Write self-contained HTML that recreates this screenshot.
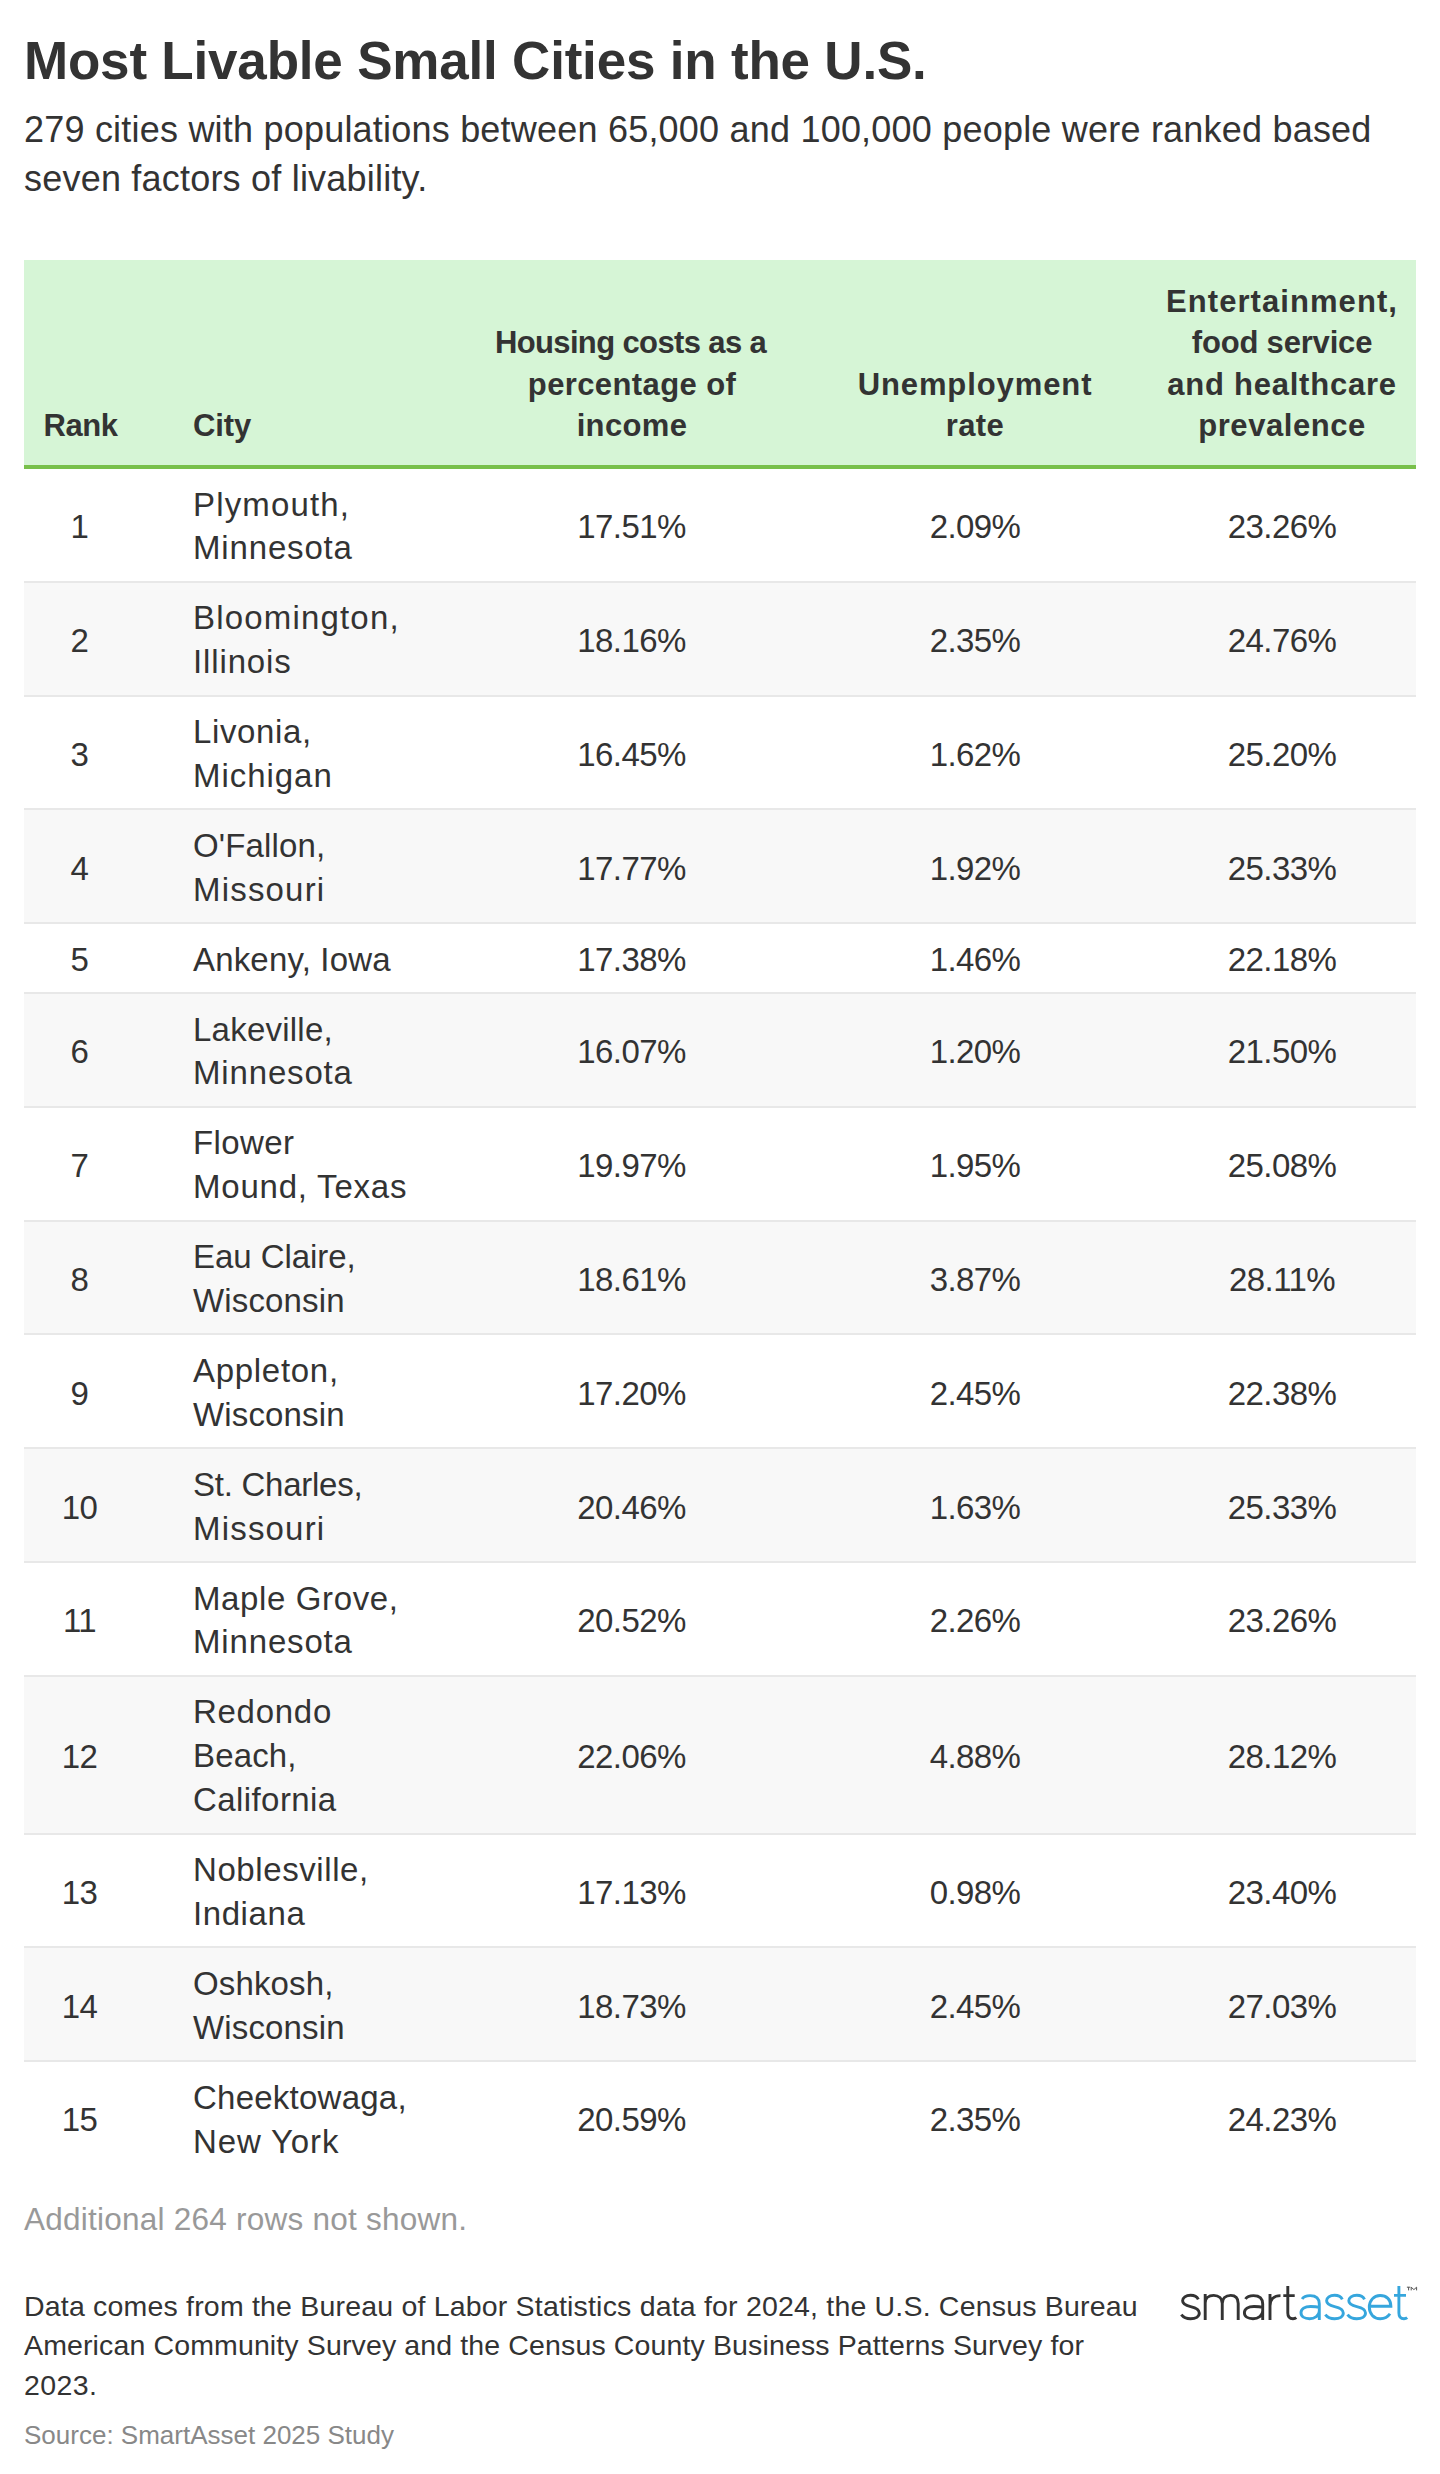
<!DOCTYPE html>
<html>
<head>
<meta charset="utf-8">
<style>
html,body{margin:0;padding:0;background:#fff;}
body{width:1440px;height:2474px;position:relative;overflow:hidden;font-family:"Liberation Sans",sans-serif;color:#333333;}
.a{position:absolute;white-space:nowrap;}
#title{left:24px;top:26px;font-size:53px;line-height:70px;font-weight:bold;letter-spacing:-0.2px;color:#333333;}
#sub{left:24px;top:106px;font-size:36px;line-height:48.6px;letter-spacing:0.21px;}
#tbl{position:absolute;left:24px;top:260px;width:1392px;}
.hd{position:relative;height:205px;background:#d6f5d6;border-bottom:4px solid #78c04b;}
.hc{position:absolute;bottom:18px;font-weight:bold;font-size:31px;line-height:41.6px;text-align:center;white-space:nowrap;color:#333333;}
.row{position:relative;border-bottom:2px solid #e8e8e8;}
.row.g{background:#f8f8f8;}
.row.last{border-bottom:none;}
.c{position:absolute;font-size:33px;line-height:43.9px;white-space:nowrap;}
.c1{left:-1px;width:113px;text-align:center;letter-spacing:-0.6px;}
.c2{left:169px;letter-spacing:0.6px;}
.cn{text-align:center;letter-spacing:-0.6px;}
#more{left:24px;top:2199px;font-size:31.5px;line-height:40px;color:#999999;letter-spacing:0.24px;}
#notes{left:24px;top:2286.5px;font-size:28.5px;line-height:39.6px;letter-spacing:0.4px;}
#src{left:24px;top:2416.5px;font-size:26px;line-height:36px;color:#888888;letter-spacing:0px;}
</style>
</head>
<body>
<div id="title" class="a">Most Livable Small Cities in the U.S.</div>
<div id="sub" class="a">279 cities with populations between 65,000 and 100,000 people were ranked based<br>seven factors of livability.</div>
<div id="tbl">
 <div class="hd">
  <div class="hc" style="left:0;width:113px;"><div style="letter-spacing:-0.4px;position:relative;left:0px">Rank</div></div>
  <div class="hc" style="left:169px;text-align:left;"><div style="letter-spacing:-0.07px;position:relative;left:0px">City</div></div>
  <div class="hc" style="left:438px;width:340px;"><div style="letter-spacing:-0.63px;position:relative;left:-1.5px">Housing costs as a</div><div style="letter-spacing:0.39px;position:relative;left:0px">percentage of</div><div style="letter-spacing:0.36px;position:relative;left:0px">income</div></div>
  <div class="hc" style="left:778px;width:346px;"><div style="letter-spacing:0.9px;position:relative;left:0px">Unemployment</div><div style="letter-spacing:0.4px;position:relative;left:0px">rate</div></div>
  <div class="hc" style="left:1124px;width:268px;"><div style="letter-spacing:1.07px;position:relative;left:0px">Entertainment,</div><div style="letter-spacing:-0.18px;position:relative;left:0px">food service</div><div style="letter-spacing:0.77px;position:relative;left:0px">and healthcare</div><div style="letter-spacing:0.55px;position:relative;left:0px">prevalence</div></div>
 </div>
 <div class="row" style="height:111.80px">
  <div class="c c1" style="top:36.25px">1</div>
  <div class="c c2" style="top:13.50px"><div style="letter-spacing:1.16px">Plymouth,</div><div style="letter-spacing:0.84px">Minnesota</div></div>
  <div class="c cn" style="left:437.5px;width:340px;top:36.25px">17.51%</div>
  <div class="c cn" style="left:778px;width:346px;top:36.25px">2.09%</div>
  <div class="c cn" style="left:1124px;width:268px;top:36.25px">23.26%</div>
 </div>
 <div class="row g" style="height:111.80px">
  <div class="c c1" style="top:36.25px">2</div>
  <div class="c c2" style="top:13.50px"><div style="letter-spacing:1.18px">Bloomington,</div><div style="letter-spacing:0.87px">Illinois</div></div>
  <div class="c cn" style="left:437.5px;width:340px;top:36.25px">18.16%</div>
  <div class="c cn" style="left:778px;width:346px;top:36.25px">2.35%</div>
  <div class="c cn" style="left:1124px;width:268px;top:36.25px">24.76%</div>
 </div>
 <div class="row" style="height:111.80px">
  <div class="c c1" style="top:36.25px">3</div>
  <div class="c c2" style="top:13.50px"><div style="letter-spacing:0.64px">Livonia,</div><div style="letter-spacing:0.96px">Michigan</div></div>
  <div class="c cn" style="left:437.5px;width:340px;top:36.25px">16.45%</div>
  <div class="c cn" style="left:778px;width:346px;top:36.25px">1.62%</div>
  <div class="c cn" style="left:1124px;width:268px;top:36.25px">25.20%</div>
 </div>
 <div class="row g" style="height:111.80px">
  <div class="c c1" style="top:36.25px">4</div>
  <div class="c c2" style="top:13.50px"><div style="letter-spacing:0.15px">O'Fallon,</div><div style="letter-spacing:1.19px">Missouri</div></div>
  <div class="c cn" style="left:437.5px;width:340px;top:36.25px">17.77%</div>
  <div class="c cn" style="left:778px;width:346px;top:36.25px">1.92%</div>
  <div class="c cn" style="left:1124px;width:268px;top:36.25px">25.33%</div>
 </div>
 <div class="row" style="height:67.90px">
  <div class="c c1" style="top:14.30px">5</div>
  <div class="c c2" style="top:13.50px"><div style="letter-spacing:0.17px">Ankeny, Iowa</div></div>
  <div class="c cn" style="left:437.5px;width:340px;top:14.30px">17.38%</div>
  <div class="c cn" style="left:778px;width:346px;top:14.30px">1.46%</div>
  <div class="c cn" style="left:1124px;width:268px;top:14.30px">22.18%</div>
 </div>
 <div class="row g" style="height:111.80px">
  <div class="c c1" style="top:36.25px">6</div>
  <div class="c c2" style="top:13.50px"><div style="letter-spacing:0.23px">Lakeville,</div><div style="letter-spacing:0.84px">Minnesota</div></div>
  <div class="c cn" style="left:437.5px;width:340px;top:36.25px">16.07%</div>
  <div class="c cn" style="left:778px;width:346px;top:36.25px">1.20%</div>
  <div class="c cn" style="left:1124px;width:268px;top:36.25px">21.50%</div>
 </div>
 <div class="row" style="height:111.80px">
  <div class="c c1" style="top:36.25px">7</div>
  <div class="c c2" style="top:13.50px"><div style="letter-spacing:0.4px">Flower</div><div style="letter-spacing:0.78px">Mound, Texas</div></div>
  <div class="c cn" style="left:437.5px;width:340px;top:36.25px">19.97%</div>
  <div class="c cn" style="left:778px;width:346px;top:36.25px">1.95%</div>
  <div class="c cn" style="left:1124px;width:268px;top:36.25px">25.08%</div>
 </div>
 <div class="row g" style="height:111.80px">
  <div class="c c1" style="top:36.25px">8</div>
  <div class="c c2" style="top:13.50px"><div style="letter-spacing:-0.06px">Eau Claire,</div><div style="letter-spacing:0.15px">Wisconsin</div></div>
  <div class="c cn" style="left:437.5px;width:340px;top:36.25px">18.61%</div>
  <div class="c cn" style="left:778px;width:346px;top:36.25px">3.87%</div>
  <div class="c cn" style="left:1124px;width:268px;top:36.25px">28.11%</div>
 </div>
 <div class="row" style="height:111.80px">
  <div class="c c1" style="top:36.25px">9</div>
  <div class="c c2" style="top:13.50px"><div style="letter-spacing:0.7px">Appleton,</div><div style="letter-spacing:0.15px">Wisconsin</div></div>
  <div class="c cn" style="left:437.5px;width:340px;top:36.25px">17.20%</div>
  <div class="c cn" style="left:778px;width:346px;top:36.25px">2.45%</div>
  <div class="c cn" style="left:1124px;width:268px;top:36.25px">22.38%</div>
 </div>
 <div class="row g" style="height:111.80px">
  <div class="c c1" style="top:36.25px">10</div>
  <div class="c c2" style="top:13.50px"><div style="letter-spacing:-0.25px">St. Charles,</div><div style="letter-spacing:1.19px">Missouri</div></div>
  <div class="c cn" style="left:437.5px;width:340px;top:36.25px">20.46%</div>
  <div class="c cn" style="left:778px;width:346px;top:36.25px">1.63%</div>
  <div class="c cn" style="left:1124px;width:268px;top:36.25px">25.33%</div>
 </div>
 <div class="row" style="height:111.80px">
  <div class="c c1" style="top:36.25px">11</div>
  <div class="c c2" style="top:13.50px"><div style="letter-spacing:0.62px">Maple Grove,</div><div style="letter-spacing:0.84px">Minnesota</div></div>
  <div class="c cn" style="left:437.5px;width:340px;top:36.25px">20.52%</div>
  <div class="c cn" style="left:778px;width:346px;top:36.25px">2.26%</div>
  <div class="c cn" style="left:1124px;width:268px;top:36.25px">23.26%</div>
 </div>
 <div class="row g" style="height:155.70px">
  <div class="c c1" style="top:58.20px">12</div>
  <div class="c c2" style="top:13.50px"><div style="letter-spacing:0.72px">Redondo</div><div style="letter-spacing:0.16px">Beach,</div><div style="letter-spacing:0.42px">California</div></div>
  <div class="c cn" style="left:437.5px;width:340px;top:58.20px">22.06%</div>
  <div class="c cn" style="left:778px;width:346px;top:58.20px">4.88%</div>
  <div class="c cn" style="left:1124px;width:268px;top:58.20px">28.12%</div>
 </div>
 <div class="row" style="height:111.80px">
  <div class="c c1" style="top:36.25px">13</div>
  <div class="c c2" style="top:13.50px"><div style="letter-spacing:0.59px">Noblesville,</div><div style="letter-spacing:0.58px">Indiana</div></div>
  <div class="c cn" style="left:437.5px;width:340px;top:36.25px">17.13%</div>
  <div class="c cn" style="left:778px;width:346px;top:36.25px">0.98%</div>
  <div class="c cn" style="left:1124px;width:268px;top:36.25px">23.40%</div>
 </div>
 <div class="row g" style="height:111.80px">
  <div class="c c1" style="top:36.25px">14</div>
  <div class="c c2" style="top:13.50px"><div style="letter-spacing:0.14px">Oshkosh,</div><div style="letter-spacing:0.15px">Wisconsin</div></div>
  <div class="c cn" style="left:437.5px;width:340px;top:36.25px">18.73%</div>
  <div class="c cn" style="left:778px;width:346px;top:36.25px">2.45%</div>
  <div class="c cn" style="left:1124px;width:268px;top:36.25px">27.03%</div>
 </div>
 <div class="row last" style="height:111.80px">
  <div class="c c1" style="top:36.25px">15</div>
  <div class="c c2" style="top:13.50px"><div style="letter-spacing:0.24px">Cheektowaga,</div><div style="letter-spacing:0.86px">New York</div></div>
  <div class="c cn" style="left:437.5px;width:340px;top:36.25px">20.59%</div>
  <div class="c cn" style="left:778px;width:346px;top:36.25px">2.35%</div>
  <div class="c cn" style="left:1124px;width:268px;top:36.25px">24.23%</div>
 </div>
</div>
<div id="more" class="a">Additional 264 rows not shown.</div>
<div id="notes" class="a"><div style="letter-spacing:0.19px">Data comes from the Bureau of Labor Statistics data for 2024, the U.S. Census Bureau</div><div style="letter-spacing:0.13px">American Community Survey and the Census County Business Patterns Survey for</div><div>2023.</div></div>
<div id="src" class="a">Source: SmartAsset 2025 Study</div>
<svg style="position:absolute;left:1170px;top:2280px" width="260" height="50" viewBox="0 0 260 50" fill="none" stroke-width="2.9">
<g stroke="#333333">
<path d="M28.3,19.3 C27,16.6 24,15.3 20.6,15.3 C15.8,15.3 12.6,17.8 12.6,20.8 C12.6,24.4 16,25.6 20.6,26.6 C25.6,27.7 29.3,29.2 29.3,33 C29.3,36.6 25.6,38.7 20.6,38.7 C16.8,38.7 13.3,37.2 11.3,34.6"/>
<path d="M35.2,14 L35.2,40 M35.2,23 C35.2,18.5 38.5,15.4 43.7,15.4 C49,15.4 52.25,18.5 52.25,23.5 L52.25,40 M52.25,23.5 C52.25,18.5 55.5,15.4 60.7,15.4 C66,15.4 68.2,18.5 68.2,23.5 L68.2,40"/>
<path d="M75.5,19 C77,16.6 80,15.6 83.5,15.6 C89.5,15.6 92.7,18.8 92.7,24 L92.7,40 M92.7,27.3 C90.5,26.7 87.5,26.5 84,26.5 C78,26.5 74.4,29 74.4,32.7 C74.4,36.5 78,38.7 83,38.7 C88,38.7 92.7,35.5 92.7,31"/>
<path d="M100,14 L100,40 M100,26 C100,19.5 104,15.6 110.5,15.6"/>
<path d="M117.8,6 L117.8,33 C117.8,37 120,38.7 123,38.7 C124.5,38.7 125.6,38.2 126.3,37.6 M113.3,15.6 L124.7,15.6"/>
</g>
<g stroke="#36a6dd">
<path d="M132.1,19 C133.6,16.6 136.6,15.6 140.1,15.6 C146.1,15.6 149.3,18.8 149.3,24 L149.3,40 M149.3,27.3 C147.1,26.7 144.1,26.5 140.6,26.5 C134.6,26.5 131.0,29 131.0,32.7 C131.0,36.5 134.6,38.7 139.6,38.7 C144.6,38.7 149.3,35.5 149.3,31"/>
<path transform="translate(144,0)" d="M28.3,19.3 C27,16.6 24,15.3 20.6,15.3 C15.8,15.3 12.6,17.8 12.6,20.8 C12.6,24.4 16,25.6 20.6,26.6 C25.6,27.7 29.3,29.2 29.3,33 C29.3,36.6 25.6,38.7 20.6,38.7 C16.8,38.7 13.3,37.2 11.3,34.6"/>
<path transform="translate(166.2,0)" d="M28.3,19.3 C27,16.6 24,15.3 20.6,15.3 C15.8,15.3 12.6,17.8 12.6,20.8 C12.6,24.4 16,25.6 20.6,26.6 C25.6,27.7 29.3,29.2 29.3,33 C29.3,36.6 25.6,38.7 20.6,38.7 C16.8,38.7 13.3,37.2 11.3,34.6"/>
<path d="M199.3,26.2 L220.9,26.2 C220.9,19.6 216.5,15.5 210.1,15.5 C203.7,15.5 199.3,20.6 199.3,27.1 C199.3,33.8 203.7,38.7 210.3,38.7 C214.6,38.7 218,36.8 220,33.8"/>
<path d="M228.9,6 L228.9,33 C228.9,37 231,38.7 234,38.7 C235.5,38.7 236.5,38.2 237.2,37.6 M224,15.4 L236,15.4"/>
</g>
<path stroke="#555" stroke-width="1" d="M236.9,7.2 L240.3,7.2 M238.6,7.2 L238.6,10.4 M241.2,10.4 L241.2,7.2 L243.9,9.6 L246.6,7.2 L246.6,10.4"/>
</svg>
</body>
</html>
